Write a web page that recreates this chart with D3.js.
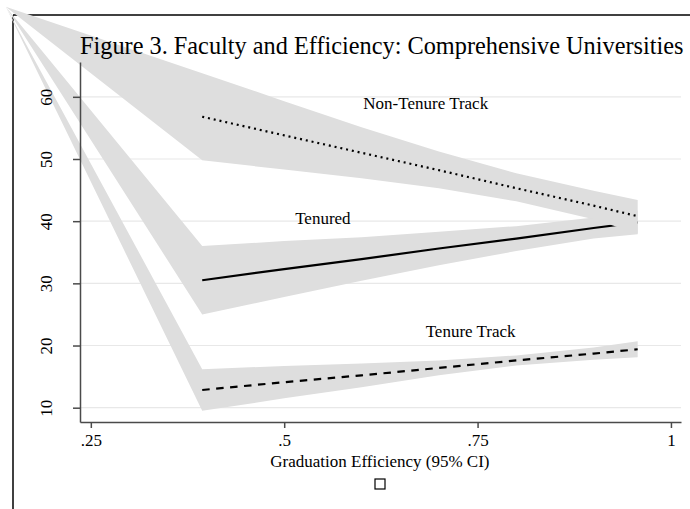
<!DOCTYPE html>
<html><head><meta charset="utf-8">
<script src="https://cdn.jsdelivr.net/npm/d3@7"></script>
<style>body{margin:0;background:#fff}svg{display:block}text{font-family:"Liberation Serif","Times New Roman",serif;fill:#000}</style>
</head><body>
<script>
// ---- data ----
const xVals = [0.394, 0.5, 0.6, 0.7, 0.8, 0.9, 0.957];
const nonTenure   = [56.8, 53.8, 51.0, 48.2, 45.3, 42.5, 40.8];
const nonTenureHi = [63.8, 59.3, 55.1, 51.2, 47.7, 44.9, 43.4];
const nonTenureLo = [49.8, 48.3, 46.9, 45.3, 43.2, 40.3, 38.0];
const tenured     = [30.5, 32.3, 33.9, 35.6, 37.2, 38.9, 39.8];
const tenuredHi   = [36.0, 36.8, 37.4, 38.3, 39.2, 40.6, 41.7];
const tenuredLo   = [25.0, 27.8, 30.4, 32.9, 35.2, 37.2, 37.9];
const tenureTrack   = [12.85, 14.1, 15.2, 16.4, 17.6, 18.7, 19.4];
const tenureTrackHi = [16.2, 16.7, 17.1, 17.6, 18.4, 19.7, 20.7];
const tenureTrackLo = [9.5, 11.5, 13.3, 15.2, 16.8, 17.7, 18.1];
// stray corner point that every CI polygon is anchored to in the original
const bandApex = {x: 0.140, y: 74.5};
const xTicks = [0.25, 0.5, 0.75, 1];
const xTickLabels = [".25", ".5", ".75", "1"];
const yTicks = [10, 20, 30, 40, 50, 60];
const yTickLabels = ["10", "20", "30", "40", "50", "60"];
const seriesLabels = [
  {text: "Non-Tenure Track", x: 0.683, y: 58.05},
  {text: "Tenured", x: 0.550, y: 39.55},
  {text: "Tenure Track", x: 0.741, y: 21.4}
];
const titleText = "Figure 3. Faculty and Efficiency: Comprehensive Universities";
const xTitle = "Graduation Efficiency (95% CI)";

// ---- drawing ----
const W = 690, H = 509;
const svg = d3.select("body").append("svg").attr("width", W).attr("height", H);
const x = d3.scaleLinear().domain([0.236, 1.013]).range([80, 681]);
const y = d3.scaleLinear().domain([7.7, 65.6]).range([422, 62]);

// outer frame
svg.append("line").attr("x1", 13).attr("x2", W).attr("y1", 15).attr("y2", 15)
  .attr("stroke", "#000").attr("stroke-width", 1.5);
svg.append("line").attr("x1", 13).attr("x2", 13).attr("y1", 15).attr("y2", H)
  .attr("stroke", "#000").attr("stroke-width", 1.5);

// gridlines
svg.append("g").selectAll("line").data(yTicks).join("line")
  .attr("x1", x.range()[0]).attr("x2", x.range()[1])
  .attr("y1", d => y(d)).attr("y2", d => y(d))
  .attr("stroke", "#e8e8e8").attr("stroke-width", 1.2);

const line = d3.line().x(d => x(d[0])).y(d => y(d[1]));
function band(hi, lo) {
  const pts = [[bandApex.x, bandApex.y]];
  xVals.forEach((xv, i) => pts.push([xv, hi[i]]));
  for (let i = xVals.length - 1; i >= 0; i--) pts.push([xVals[i], lo[i]]);
  return line(pts) + "Z";
}
function series(vals, hi, lo, dash) {
  svg.append("path").attr("d", band(hi, lo)).attr("fill", "#dedede");
  svg.append("path").attr("d", line(xVals.map((xv, i) => [xv, vals[i]])))
    .attr("fill", "none").attr("stroke", "#000").attr("stroke-width", 2.2)
    .attr("stroke-dasharray", dash);
}
series(tenured, tenuredHi, tenuredLo, null);
series(nonTenure, nonTenureHi, nonTenureLo, "2,3.9");
series(tenureTrack, tenureTrackHi, tenureTrackLo, "7.5,6.5");

// axes
const axisColor = "#4a4a4a";
const gx = svg.append("g").attr("transform", `translate(0,${y.range()[0]})`)
  .call(d3.axisBottom(x).tickValues(xTicks).tickSize(6).tickSizeOuter(0).tickFormat((d, i) => xTickLabels[i]));
gx.select(".domain").attr("stroke", axisColor).attr("stroke-width", 1.5);
gx.selectAll(".tick line").attr("stroke", axisColor).attr("stroke-width", 1.5);
gx.selectAll(".tick text").attr("y", 23.5).attr("dy", null).attr("font-size", 17)
  .attr("font-family", "Liberation Serif").attr("fill", "#000");

const gy = svg.append("g").attr("transform", `translate(${x.range()[0]},0)`)
  .call(d3.axisLeft(y).tickValues(yTicks).tickSize(7).tickSizeOuter(0).tickFormat((d, i) => yTickLabels[i]));
gy.select(".domain").attr("stroke", axisColor).attr("stroke-width", 1.5);
gy.selectAll(".tick line").attr("stroke", axisColor).attr("stroke-width", 1.5);
gy.selectAll(".tick text").attr("x", null).attr("dy", null)
  .attr("transform", "translate(-28,0) rotate(-90)")
  .attr("text-anchor", "middle").attr("font-size", 17)
  .attr("font-family", "Liberation Serif").attr("fill", "#000");

// series labels
svg.append("g").selectAll("text").data(seriesLabels).join("text")
  .attr("x", d => x(d.x)).attr("y", d => y(d.y))
  .attr("text-anchor", "middle").attr("font-size", 17).text(d => d.text);

// title
svg.append("text").attr("x", x.range()[0]).attr("y", 54)
  .attr("font-size", 24.3).text(titleText);

// x axis title
svg.append("text").attr("x", (x(0.25) + x(1)) / 2 - 1).attr("y", 466.5)
  .attr("text-anchor", "middle").attr("font-size", 17).text(xTitle);

// empty legend key
svg.append("rect").attr("x", 375).attr("y", 479).attr("width", 10).attr("height", 10)
  .attr("fill", "#fff").attr("stroke", "#000").attr("stroke-width", 1.2);
</script>
</body></html>
